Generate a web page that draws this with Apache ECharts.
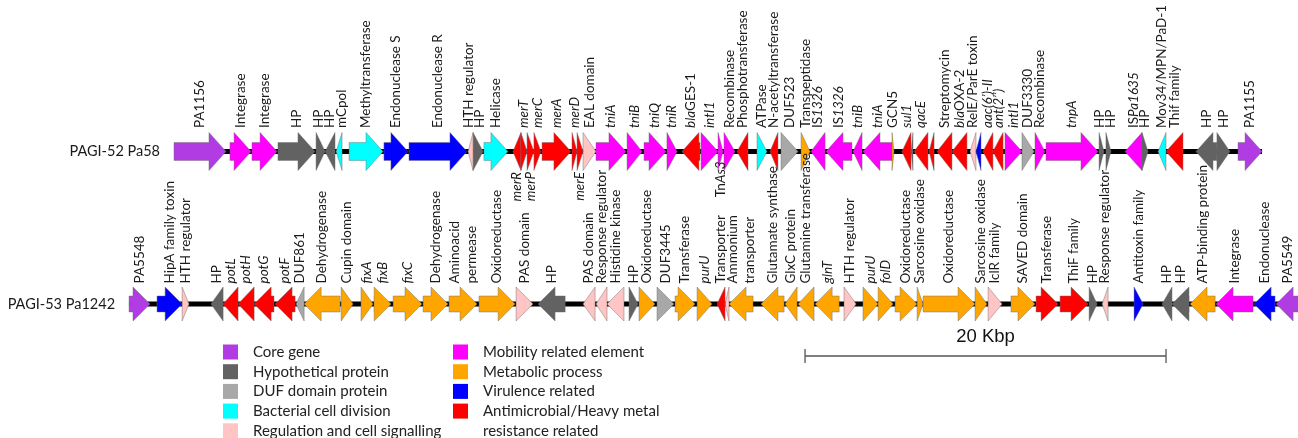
<!DOCTYPE html>
<html>
<head>
<meta charset="utf-8">
<script src="https://cdn.jsdelivr.net/npm/echarts@6/dist/echarts.min.js"></script>
<style>
  html, body { margin: 0; padding: 0; background: #ffffff; }
  #chart { width: 1298px; height: 438px; }
</style>
</head>
<body>
<div id="chart"></div>
<script>
// Functional classes of the genes (legend order) and their fill colours
const classKeys = ['core', 'hyp', 'duf', 'div', 'reg', 'mob', 'met', 'vir', 'res'];
const categories = [
  'Core gene',
  'Hypothetical protein',
  'DUF domain protein',
  'Bacterial cell division',
  'Regulation and cell signalling',
  'Mobility related element',
  'Metabolic process',
  'Virulence related',
  'Antimicrobial/Heavy metal\nresistance related'
];
const categoryColors = ['#B13CE4', '#626262', '#A8A8A8', '#00FFFF', '#FFC4C4', '#FF00FF', '#FFA500', '#0000FF', '#FF0000'];

const trackNames = ['PAGI-52 Pa58', 'PAGI-53 Pa1242'];

// PAGI-52 genes: start (kb), end (kb), strand, class, label, label side
const pagi52Genes = [
  [0.00, 2.88, 1, 'core', 'PA1156'],
  [3.10, 4.27, 1, 'mob', 'Integrase'],
  [4.32, 5.71, 1, 'mob', 'Integrase'],
  [5.76, 7.81, 1, 'hyp', 'HP'],
  [7.87, 8.37, 1, 'hyp', 'HP'],
  [8.37, 8.92, -1, 'hyp', 'HP'],
  [8.98, 9.31, -1, 'div', 'mCpol'],
  [9.70, 11.58, 1, 'div', 'Methyltransferase'],
  [11.63, 12.96, 1, 'vir', 'Endonuclease S'],
  [13.02, 16.23, 1, 'vir', 'Endonuclease R'],
  [16.29, 16.57, -1, 'reg', 'HTH regulator'],
  [16.57, 17.12, 1, 'hyp', 'HP'],
  [17.17, 18.50, 1, 'div', 'Helicase'],
  [18.78, 19.22, -1, 'res', '{i|merR}', 'below'],
  [19.22, 19.56, 1, 'res', '{i|merT}'],
  [19.56, 19.94, 1, 'res', '{i|merP}', 'below'],
  [19.94, 20.33, 1, 'res', '{i|merC}'],
  [20.39, 21.99, 1, 'res', '{i|merA}'],
  [22.05, 22.33, 1, 'res', '{i|merD}'],
  [22.33, 22.66, 1, 'res', '{i|merE}', 'below'],
  [22.66, 23.38, 1, 'reg', 'EAL domain'],
  [23.38, 25.04, 1, 'mob', '{i|tniA}'],
  [25.10, 25.93, 1, 'mob', '{i|tniB}'],
  [26.04, 27.26, 1, 'mob', '{i|tniQ}'],
  [27.31, 27.87, 1, 'mob', '{i|tniR}'],
  [28.14, 29.14, -1, 'res', '{i|bla}GES-1'],
  [29.20, 30.14, 1, 'mob', '{i|intI1}'],
  [30.14, 30.42, 1, 'mob', ''],
  [30.47, 31.08, 1, 'mob', 'Recombinase'],
  [31.19, 31.80, -1, 'res', 'Phosphotransferase'],
  [32.30, 32.85, 1, 'div', 'ATPase'],
  [33.02, 33.46, -1, 'res', 'N-acetyltransferase'],
  [33.63, 34.57, 1, 'duf', 'DUF523'],
  [34.74, 35.24, 1, 'met', 'Transpeptidase'],
  [35.29, 36.07, -1, 'mob', 'IS{i|1326}'],
  [36.12, 37.56, -1, 'mob', 'IS{i|1326}'],
  [37.62, 38.12, -1, 'mob', '{i|tniB}'],
  [38.17, 39.78, -1, 'mob', '{i|tniA}'],
  [39.78, 39.89, 1, 'met', 'GCN5'],
  [40.33, 40.83, -1, 'res', '{i|sul1}'],
  [40.83, 40.94, -1, 'hyp', ''],
  [41.00, 41.77, -1, 'res', '{i|qacE}'],
  [41.83, 42.11, -1, 'res', ''],
  [42.27, 43.10, -1, 'res', 'Streptomycin'],
  [43.10, 43.93, -1, 'res', '{i|bla}OXA-2'],
  [44.10, 44.43, -1, 'reg', 'RelE/ParE toxin'],
  [44.43, 44.71, -1, 'vir', ''],
  [44.82, 45.37, -1, 'res', '{i|aac(6’)-II}'],
  [45.37, 45.93, -1, 'res', '{i|ant(2’’)}'],
  [46.04, 46.98, 1, 'mob', '{i|intI1}'],
  [46.98, 47.65, 1, 'duf', 'DUF3330'],
  [47.70, 48.25, 1, 'mob', 'Recombinase'],
  [48.31, 51.19, 1, 'mob', '{i|tnpA}'],
  [51.25, 51.52, 1, 'hyp', 'HP'],
  [51.63, 51.91, 1, 'hyp', 'HP'],
  [52.69, 53.63, -1, 'mob', 'IS{i|Pa1635}'],
  [53.63, 53.96, 1, 'hyp', 'HP'],
  [54.52, 54.96, -1, 'div', 'Mov34/MPN/PaD-1'],
  [54.96, 55.90, -1, 'res', 'Thif family'],
  [56.62, 57.78, -1, 'hyp', 'HP'],
  [57.78, 58.50, 1, 'hyp', 'HP'],
  [58.95, 60.28, 1, 'core', 'PA1155']
];

// PAGI-53 genes: start (kb), end (kb), strand, class, label
const pagi53Genes = [
  [0.00, 1.16, 1, 'core', 'PA5548'],
  [1.55, 2.94, 1, 'vir', 'HipA family toxin'],
  [2.94, 3.32, 1, 'reg', 'HTH regulator'],
  [4.54, 5.21, -1, 'hyp', 'HP'],
  [5.21, 6.04, -1, 'res', '{i|potL}'],
  [6.04, 6.93, -1, 'res', '{i|potH}'],
  [6.93, 8.03, -1, 'res', '{i|potG}'],
  [8.09, 9.20, -1, 'res', '{i|potF}'],
  [9.25, 9.70, -1, 'duf', 'DUF861'],
  [9.70, 11.69, -1, 'met', 'Dehydrogenase'],
  [11.75, 12.41, 1, 'met', 'Cupin domain'],
  [12.85, 13.52, 1, 'met', '{i|fixA}'],
  [13.57, 14.52, 1, 'met', '{i|fixB}'],
  [14.63, 16.23, 1, 'met', '{i|fixC}'],
  [16.29, 17.67, 1, 'met', 'Dehydrogenase'],
  [17.73, 19.28, 1, 'met', 'Aminoacid\npermease'],
  [19.39, 21.39, 1, 'met', 'Oxidoreductase'],
  [21.44, 22.38, 1, 'reg', 'PAS domain'],
  [22.66, 24.16, -1, 'hyp', 'HP'],
  [25.15, 25.82, -1, 'reg', 'PAS domain'],
  [25.87, 26.48, -1, 'reg', 'Response regulator'],
  [26.48, 27.42, -1, 'reg', 'Histidine kinase'],
  [27.70, 28.20, 1, 'hyp', 'HP'],
  [28.25, 29.14, 1, 'met', 'Oxidoreductase'],
  [29.25, 30.19, 1, 'duf', 'DUF3445'],
  [30.25, 31.36, 1, 'met', 'Transferase'],
  [31.47, 32.30, 1, 'met', '{i|purU}'],
  [32.58, 33.02, -1, 'res', 'Transporter{g|}Tn{i|As3}'],
  [33.02, 33.24, -1, 'reg', ''],
  [33.24, 34.57, -1, 'met', 'Ammonium\ntransporter'],
  [35.01, 36.29, -1, 'met', 'Glutamate synthase'],
  [36.34, 37.01, -1, 'met', 'GlxC protein'],
  [37.06, 37.95, -1, 'met', 'Glutamine transferase'],
  [38.01, 39.34, -1, 'met', '{i|glnT}'],
  [39.61, 40.28, 1, 'reg', 'HTH regulator'],
  [40.66, 41.50, 1, 'met', '{i|purU}'],
  [41.50, 42.33, 1, 'met', '{i|folD}'],
  [42.44, 43.66, 1, 'met', 'Oxidoreductase'],
  [43.66, 43.99, 1, 'met', 'Sarcosine oxidase'],
  [43.99, 46.87, 1, 'met', 'Oxidoreductase'],
  [46.87, 47.53, 1, 'met', 'Sarcosine oxidase'],
  [47.59, 48.37, 1, 'reg', 'IclR family'],
  [48.86, 50.19, 1, 'met', 'SAVED domain'],
  [50.25, 51.47, 1, 'res', 'Transferase'],
  [51.58, 53.13, 1, 'res', 'ThiF family'],
  [53.19, 53.63, 1, 'hyp', 'HP'],
  [53.91, 54.24, -1, 'reg', 'Response regulator'],
  [55.68, 56.18, 1, 'vir', 'Antitoxin family'],
  [57.23, 57.78, -1, 'hyp', 'HP'],
  [57.78, 58.73, -1, 'hyp', 'HP'],
  [58.78, 60.17, -1, 'met', 'ATP-binding protein'],
  [60.22, 62.27, -1, 'mob', 'Integrase'],
  [62.33, 63.49, -1, 'vir', 'Endonuclease'],
  [63.55, 64.88, -1, 'core', 'PA5549']
];

// Scale bar length (kb)
const scaleBarKb = [20];

// ---------------------------------------------------------------
const chart = echarts.init(document.getElementById('chart'));
const W = chart.getWidth();
const H = chart.getHeight();
const PX_PER_KB = 18.05;
const X_MAX = W / PX_PER_KB;
const HEAD_PX = 17;          // arrow head length
const LABEL_W = 11.5;        // spacing taken by one rotated text line
const LINE_H = 17;           // line height of rotated labels
const SCALE_START = 44.6;    // kb position of the scale bar
const SCALE_Y = 356;

const TRACKS = [
  { name: trackNames[0], genes: pagi52Genes, offset: 9.64, y: 151.5, h: 38, labelY: 128, belowY: 172 },
  { name: trackNames[1], genes: pagi53Genes, offset: 7.15, y: 304, h: 34, labelY: 283.5, belowY: 325 }
];

const LABEL_STYLE = { fontFamily: 'Lato', fontSize: 13.5, fill: '#1a1a1a', lineHeight: LINE_H };
const RICH = {
  i: Object.assign({}, LABEL_STYLE, { fontStyle: 'italic' }),
  g: Object.assign({}, LABEL_STYLE, { width: 18 })
};

// Spread rotated labels along the track so that neighbouring columns never overlap,
// keeping each group as close as possible to the centre of its genes.
function spread(list) {
  const blocks = [];
  const fit = b => {
    b.offs = [0];
    for (let k = 1; k < b.items.length; k++) {
      b.offs[k] = b.offs[k - 1] + (b.items[k - 1].w + b.items[k].w) / 2;
    }
    let s = 0;
    b.items.forEach((it, k) => { s += it.d - b.offs[k]; });
    b.p0 = s / b.items.length;
  };
  list.forEach(it => {
    const b = { items: [it] };
    fit(b);
    blocks.push(b);
    while (blocks.length > 1) {
      const a = blocks[blocks.length - 2];
      const c = blocks[blocks.length - 1];
      const last = a.items[a.items.length - 1];
      const need = a.p0 + a.offs[a.offs.length - 1] + (last.w + c.items[0].w) / 2;
      if (need <= c.p0 + 1e-9) break;
      a.items = a.items.concat(c.items);
      blocks.pop();
      fit(a);
    }
  });
  blocks.forEach(b => b.items.forEach((it, k) => { it.x = b.p0 + b.offs[k]; }));
}

const genesByClass = {};
classKeys.forEach(k => { genesByClass[k] = []; });

TRACKS.forEach((t, ti) => {
  const items = t.genes.map(([s, e, strand, cls, label, side]) => ({
    track: ti, x0: t.offset + s, x1: t.offset + e, strand, cls, label, below: side === 'below'
  }));
  [false, true].forEach(below => {
    const list = items
      .filter(g => g.label && g.below === below)
      .map(g => ({
        g,
        d: (g.x0 + g.x1) / 2,
        w: (LABEL_W + (g.label.split('\n').length - 1) * LINE_H) / PX_PER_KB
      }))
      .sort((a, b) => a.d - b.d);
    spread(list);
    list.forEach(it => { it.g.labelX = it.x; });
  });
  items.forEach(g => genesByClass[g.cls].push(g));
});

function makeGeneRenderer(items, color) {
  return function (params, api) {
    const g = items[params.dataIndex];
    const t = TRACKS[g.track];
    const x0 = api.coord([g.x0, t.y])[0];
    const x1 = api.coord([g.x1, t.y])[0];
    const yc = api.coord([g.x0, t.y])[1];
    const hh = t.h / 2;
    const sh = t.h * 0.235;
    const len = x1 - x0;
    let pts;
    if (len <= HEAD_PX) {
      pts = g.strand > 0
        ? [[x0, yc - hh], [x1, yc], [x0, yc + hh]]
        : [[x1, yc - hh], [x0, yc], [x1, yc + hh]];
    } else if (g.strand > 0) {
      const hx = x1 - HEAD_PX;
      pts = [[x0, yc - sh], [hx, yc - sh], [hx, yc - hh], [x1, yc], [hx, yc + hh], [hx, yc + sh], [x0, yc + sh]];
    } else {
      const hx = x0 + HEAD_PX;
      pts = [[x1, yc - sh], [hx, yc - sh], [hx, yc - hh], [x0, yc], [hx, yc + hh], [hx, yc + sh], [x1, yc + sh]];
    }
    const children = [{
      type: 'polygon',
      shape: { points: pts },
      style: { fill: color, stroke: 'rgba(110,110,110,0.75)', lineWidth: 0.6 }
    }];
    if (g.label) {
      const lx = api.coord([g.labelX, t.y])[0];
      children.push({
        type: 'text',
        x: lx,
        y: g.below ? t.belowY : t.labelY,
        rotation: Math.PI / 2,
        style: Object.assign({}, LABEL_STYLE, {
          text: g.label,
          rich: RICH,
          align: g.below ? 'right' : 'left',
          verticalAlign: 'middle'
        })
      });
    }
    return { type: 'group', children };
  };
}

const geneSeries = classKeys.map((k, ci) => ({
  name: categories[ci],
  type: 'custom',
  coordinateSystem: 'cartesian2d',
  silent: true,
  z: 3,
  itemStyle: { color: categoryColors[ci] },
  encode: { x: [0, 1], y: 2 },
  data: genesByClass[k].map(g => [g.x0, g.x1, TRACKS[g.track].y]),
  renderItem: makeGeneRenderer(genesByClass[k], categoryColors[ci])
}));

// Black backbone of each island with its name on the left
const backboneSeries = {
  type: 'custom',
  coordinateSystem: 'cartesian2d',
  silent: true,
  z: 1,
  encode: { x: [0, 1], y: 2 },
  data: TRACKS.map(t => [t.offset + t.genes[0][0], t.offset + t.genes[t.genes.length - 1][1], t.y]),
  renderItem: function (params, api) {
    const t = TRACKS[params.dataIndex];
    const a = api.coord([api.value(0), t.y]);
    const b = api.coord([api.value(1), t.y]);
    return {
      type: 'group',
      children: [
        { type: 'rect', shape: { x: a[0], y: a[1] - 2.5, width: b[0] - a[0], height: 5 }, style: { fill: '#000' } },
        {
          type: 'text', x: a[0] - 14, y: a[1],
          style: { text: t.name, align: 'right', verticalAlign: 'middle', fontFamily: 'Lato', fontSize: 14.5, fill: '#1a1a1a' }
        }
      ]
    };
  }
};

// Scale bar drawn on the same kb axis as the genes
const scaleSeries = {
  type: 'custom',
  coordinateSystem: 'cartesian2d',
  silent: true,
  z: 2,
  encode: { x: [0, 1], y: 2 },
  data: scaleBarKb.map(v => [SCALE_START, SCALE_START + v, SCALE_Y]),
  renderItem: function (params, api) {
    const a = api.coord([api.value(0), api.value(2)]);
    const b = api.coord([api.value(1), api.value(2)]);
    const st = { stroke: '#555', lineWidth: 1.3 };
    return {
      type: 'group',
      children: [
        { type: 'line', shape: { x1: a[0], y1: a[1], x2: b[0], y2: b[1] }, style: st },
        { type: 'line', shape: { x1: a[0], y1: a[1] - 7, x2: a[0], y2: a[1] + 7 }, style: st },
        { type: 'line', shape: { x1: b[0], y1: b[1] - 7, x2: b[0], y2: b[1] + 7 }, style: st },
        {
          type: 'text', x: (a[0] + b[0]) / 2, y: a[1] - 19,
          style: {
            text: scaleBarKb[params.dataIndex] + ' Kbp', align: 'center', verticalAlign: 'middle',
            fontFamily: 'Liberation Sans', fontSize: 18.5, fill: '#111'
          }
        }
      ]
    };
  }
};

const legendBase = {
  orient: 'vertical',
  top: 344.5,
  height: 120,
  padding: 0,
  itemWidth: 15,
  itemHeight: 15,
  itemGap: 4.7,
  icon: 'rect',
  selectedMode: false,
  formatter: name => name.split('\n')[0],
  textStyle: { fontFamily: 'Lato', fontSize: 15, color: '#222', lineHeight: 15, padding: [0, 0, 0, 10] }
};

const lastCategoryLines = categories[8].split('\n');

chart.setOption({
  animation: false,
  backgroundColor: '#ffffff',
  grid: { left: 0, right: 0, top: 0, bottom: 0 },
  xAxis: { type: 'value', min: 0, max: X_MAX, show: false },
  yAxis: { type: 'value', min: 0, max: H, inverse: true, show: false },
  legend: [
    Object.assign({}, legendBase, { left: 223, data: categories.slice(0, 5) }),
    Object.assign({}, legendBase, { left: 453, data: categories.slice(5) })
  ],
  graphic: [{
    type: 'text',
    left: 483,
    top: 423.5,
    style: { text: lastCategoryLines[1], fontFamily: 'Lato', fontSize: 15, fill: '#222' }
  }],
  series: [backboneSeries, scaleSeries].concat(geneSeries)
});
</script>
</body>
</html>
